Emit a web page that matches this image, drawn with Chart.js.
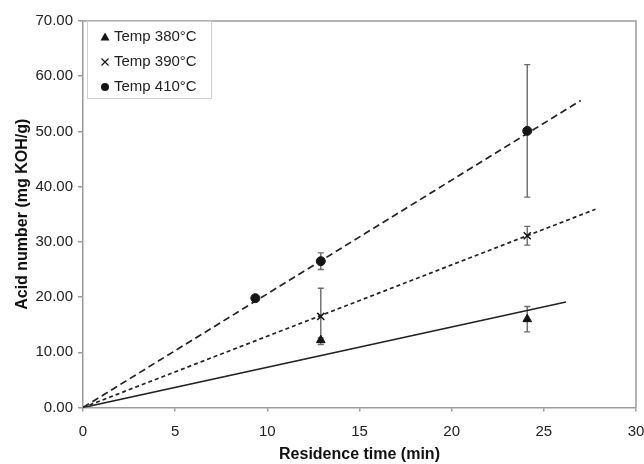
<!DOCTYPE html>
<html>
<head>
<meta charset="utf-8">
<script src="https://cdn.jsdelivr.net/npm/chart.js"></script>
<style>
  body { margin: 0; background: #fff; }
  canvas { display: block; }
</style>
</head>
<body>
<canvas id="myChart" width="644" height="464"></canvas>
<script>
// measured points (residence time in min, acid number in mg KOH/g, +/- error)
const times380 = [12.9, 24.1];
const acid380 = [12.2, 16.0];
const err380 = [0.4, 2.3];

const times390 = [12.9, 24.1];
const acid390 = [16.5, 31.1];
const err390 = [5.1, 1.7];

const times410 = [9.35, 12.9, 24.1];
const acid410 = [19.8, 26.5, 50.1];
const err410 = [0.4, 1.5, 12.0];

// linear trend lines through the origin (start and end points)
const fitX380 = [0, 26.2];
const fitY380 = [0, 19.1];
const fitX390 = [0, 27.8];
const fitY390 = [0, 35.9];
const fitX410 = [0, 27.0];
const fitY410 = [0, 55.6];

const legendLabels = ['Temp 380°C', 'Temp 390°C', 'Temp 410°C'];
const legendStyles = ['triangle', 'crossRot', 'circle'];

const pts = (xs, ys) => xs.map((x, i) => ({x: x, y: ys[i]}));

const axisGray = '#9a9a9a';
const ink = '#151515';

// error bars, drawn underneath the markers
const errorBars = {
  id: 'errorBars',
  beforeDatasetsDraw(chart) {
    const ctx = chart.ctx;
    const xs = chart.scales.x, ys = chart.scales.y;
    const sets = [[times380, acid380, err380], [times390, acid390, err390], [times410, acid410, err410]];
    ctx.save();
    ctx.strokeStyle = '#6a6a6a';
    ctx.lineWidth = 1.4;
    sets.forEach(([t, a, e]) => {
      t.forEach((x, i) => {
        const px = xs.getPixelForValue(x);
        const top = ys.getPixelForValue(a[i] + e[i]);
        const bot = ys.getPixelForValue(a[i] - e[i]);
        ctx.beginPath();
        ctx.moveTo(px, top); ctx.lineTo(px, bot);
        ctx.moveTo(px - 3, top); ctx.lineTo(px + 3, top);
        ctx.moveTo(px - 3, bot); ctx.lineTo(px + 3, bot);
        ctx.stroke();
      });
    });
    ctx.restore();
  }
};

// frame on top/right of the plot and the boxed legend in the corner
const frameAndLegend = {
  id: 'frameAndLegend',
  afterDraw(chart) {
    const ctx = chart.ctx;
    const a = chart.chartArea;
    ctx.save();
    ctx.strokeStyle = axisGray;
    ctx.lineWidth = 1.5;
    ctx.beginPath();
    ctx.moveTo(a.left, a.top);
    ctx.lineTo(a.right, a.top);
    ctx.lineTo(a.right, a.bottom);
    ctx.stroke();

    const bx = a.left + 4, by = a.top, bw = 124, bh = 77;
    ctx.fillStyle = '#fff';
    ctx.fillRect(bx, by, bw, bh);
    ctx.strokeStyle = '#cfcfcf';
    ctx.lineWidth = 1;
    ctx.strokeRect(bx + 0.5, by + 0.5, bw, bh);

    ctx.font = '15px "Liberation Sans", Arial, sans-serif';
    ctx.textBaseline = 'middle';
    ctx.textAlign = 'left';
    legendLabels.forEach((label, i) => {
      const cy = by + 16 + i * 25;
      const mx = bx + 18;
      ctx.fillStyle = ink;
      ctx.strokeStyle = ink;
      ctx.lineWidth = 1.2;
      if (legendStyles[i] === 'triangle') {
        ctx.beginPath();
        ctx.moveTo(mx, cy - 4.5); ctx.lineTo(mx + 4.5, cy + 3.5); ctx.lineTo(mx - 4.5, cy + 3.5);
        ctx.closePath(); ctx.fill();
      } else if (legendStyles[i] === 'crossRot') {
        ctx.beginPath();
        ctx.moveTo(mx - 3.5, cy - 3.5); ctx.lineTo(mx + 3.5, cy + 3.5);
        ctx.moveTo(mx + 3.5, cy - 3.5); ctx.lineTo(mx - 3.5, cy + 3.5);
        ctx.stroke();
      } else {
        ctx.beginPath();
        ctx.arc(mx, cy, 4, 0, Math.PI * 2);
        ctx.fill();
      }
      ctx.fillStyle = '#222';
      ctx.fillText(label, bx + 27, cy);
    });
    ctx.restore();
  }
};

const ctx = document.getElementById('myChart');
Chart.defaults.font.family = '"Liberation Sans", Arial, sans-serif';
Chart.defaults.color = '#222';

const trend = (xs, ys, dash) => ({
  type: 'line',
  data: pts(xs, ys),
  borderColor: '#222',
  borderWidth: 1.7,
  borderDash: dash,
  pointRadius: 0,
  fill: false,
  order: 2
});

const points = (xs, ys, style, r) => ({
  type: 'scatter',
  data: pts(xs, ys),
  pointStyle: style,
  pointRadius: r,
  backgroundColor: ink,
  borderColor: ink,
  borderWidth: style === 'crossRot' ? 1.5 : 1,
  order: 1
});

new Chart(ctx, {
  type: 'scatter',
  data: {
    datasets: [
      trend(fitX380, fitY380, []),
      trend(fitX390, fitY390, [4, 3]),
      trend(fitX410, fitY410, [7, 4]),
      points(times380, acid380, 'triangle', 5),
      points(times390, acid390, 'crossRot', 5),
      points(times410, acid410, 'circle', 4.5)
    ]
  },
  options: {
    responsive: false,
    animation: false,
    layout: { padding: { left: 0, right: 8, top: 21, bottom: 0 } },
    plugins: { legend: { display: false }, tooltip: { enabled: false } },
    scales: {
      x: {
        type: 'linear',
        min: 0, max: 30,
        ticks: { stepSize: 5, font: { size: 15 }, padding: 11, color: '#222' },
        grid: { drawOnChartArea: false, tickLength: 4, color: axisGray, lineWidth: 1.5 },
        border: { color: axisGray, width: 1.5 },
        title: { display: true, text: 'Residence time (min)', font: { size: 16, weight: 'bold' }, color: '#111', padding: { top: 0, bottom: 0 } },
        afterFit(s) { s.height = 56.5; s.paddingLeft = 0; s.paddingRight = 0; }
      },
      y: {
        type: 'linear',
        min: 0, max: 70,
        ticks: { stepSize: 10, font: { size: 15 }, padding: 5, color: '#222', callback: v => v.toFixed(2) },
        grid: { drawOnChartArea: false, tickLength: 5, color: axisGray, lineWidth: 1.5 },
        border: { color: axisGray, width: 1.5 },
        title: { display: true, text: 'Acid number (mg KOH/g)', font: { size: 16, weight: 'bold' }, color: '#111', padding: { top: 13, bottom: 0 } },
        afterFit(s) { s.width = 83; s.paddingTop = 0; s.paddingBottom = 0; }
      }
    }
  },
  plugins: [errorBars, frameAndLegend]
});
</script>
</body>
</html>
